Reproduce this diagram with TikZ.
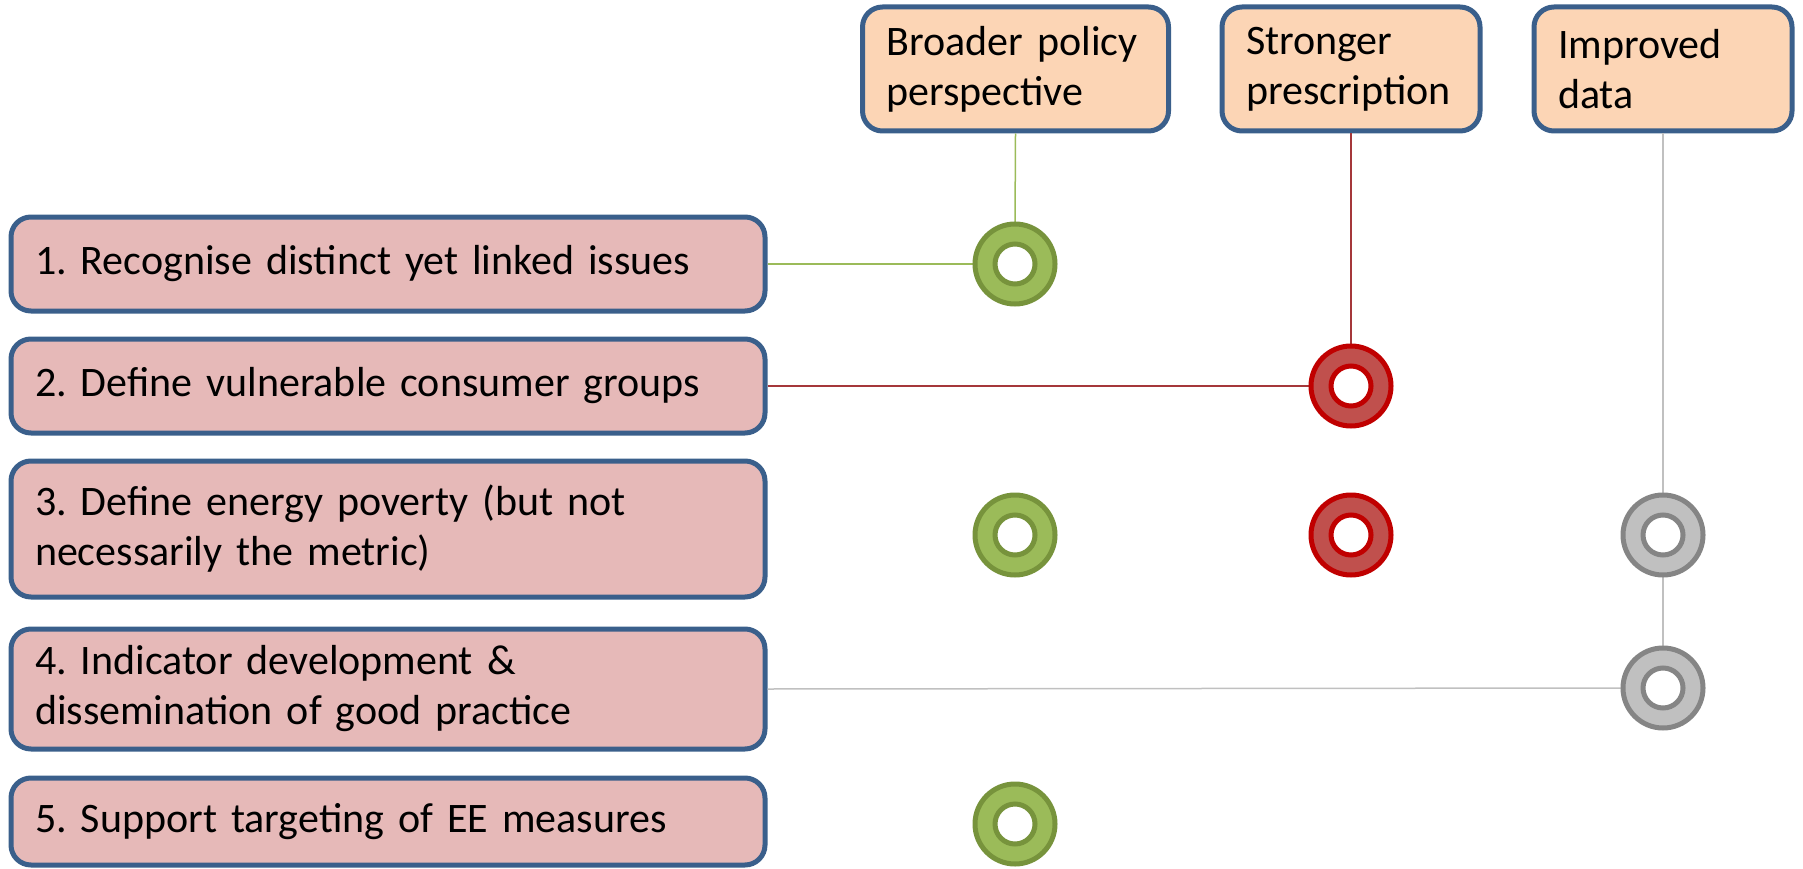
\documentclass[tikz,border=0pt]{standalone}
\usepackage{fontspec}
\setmainfont{Carlito}
\frenchspacing
\begin{document}
\definecolor{boxline}{HTML}{3A5F8B}
\definecolor{peach}{HTML}{FCD5B5}
\definecolor{rose}{HTML}{E6B9B8}
\definecolor{gfill}{HTML}{9BBB59}
\definecolor{gline}{HTML}{77933C}
\definecolor{rfill}{HTML}{C0504D}
\definecolor{rline}{HTML}{C00000}
\definecolor{rconn}{HTML}{A5373A}
\definecolor{yfill}{HTML}{C0C0C0}
\definecolor{yline}{HTML}{858585}
\begin{tikzpicture}[x=1pt,y=-1pt,
  every node/.style={font=\fontsize{42}{50}\selectfont},
  card/.style={draw=boxline, line width=5pt, rounded corners=20pt,
    inner xsep=24pt, inner ysep=0pt, align=left, anchor=center},
  topcard/.style={card, fill=peach, minimum height=124pt},
  rowcard/.style={card, fill=rose, text width=706pt},
  ring/.style={circle, minimum size=80pt, inner sep=0pt, line width=5pt,
    path picture={\draw[line width=5pt, draw=#1, fill=white]
      (path picture bounding box.center) circle (20pt);}},
  ringg/.style={ring=gline, draw=gline, fill=gfill},
  ringr/.style={ring=rline, draw=rline, fill=rfill},
  ringy/.style={ring=yline, draw=yline, fill=yfill},
  gconn/.style={draw=gfill, line width=1.5pt},
  rconn/.style={draw=rconn, line width=1.5pt},
  yconn/.style={draw=yfill, line width=1.5pt}]
\useasboundingbox (0,0) rectangle (1803,869);

% column headers
\node[topcard, text width=258pt] (A) at (1015.5,69) {Broader policy\\perspective};
\node[topcard, text width=210pt] (B) at (1351,69) {Stronger\\prescription};
\node[topcard, text width=210pt] (C) at (1663,69) {Improved\\data};

% row labels
\node[rowcard, minimum height=94pt] (b1) at (388,264) {1. Recognise distinct yet linked issues};
\node[rowcard, minimum height=94pt] (b2) at (388,386) {2. Define vulnerable consumer groups};
\node[rowcard, minimum height=136pt] (b3) at (388,529) {3. Define energy poverty (but not\\necessarily the metric)};
\node[rowcard, minimum height=120pt] (b4) at (388,689) {4. Indicator development \&\\dissemination of good practice};
\node[rowcard, minimum height=87pt] (b5) at (388,821.5) {5. Support targeting of EE measures};

% connectors
\draw[gconn] (A.south) -- (1015,224);
\draw[gconn] (b1.east) -- (975,264);
\draw[rconn] (B.south) -- (1351,346);
\draw[rconn] (b2.east) -- (1311,386);
\draw[yconn] (C.south) -- (1663,495);
\draw[yconn] (1663,575) -- (1663,648);
\draw[yconn] (b4.east) -- (1623,688);

% markers
\node[ringg] (g1) at (1015,264) {};
\node[ringr] (r2) at (1351,386) {};
\node[ringg] (g3) at (1015,535) {};
\node[ringr] (r3) at (1351,535) {};
\node[ringy] (y3) at (1663,535) {};
\node[ringy] (y4) at (1663,688) {};
\node[ringg] (g5) at (1015,824) {};
\end{tikzpicture}
\end{document}
